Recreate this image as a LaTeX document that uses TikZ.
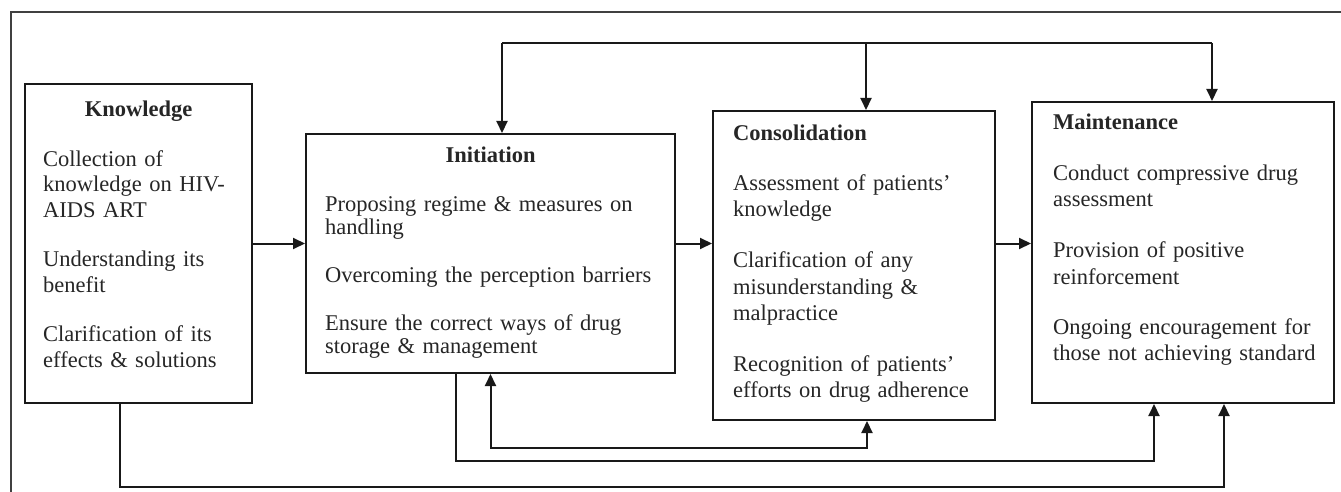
\documentclass[tikz,border=0pt]{standalone}
\usepackage{fontspec}
\setmainfont{Liberation Serif}
\usepackage{tikz}
\usetikzlibrary{calc,arrows,arrows.meta}

\begin{document}
\begin{tikzpicture}[x=1pt,y=-1pt,
    stagebox/.style={draw=black!90, line width=2pt, inner sep=0pt},
    stagetext/.style={anchor=base west, align=left, inner sep=0pt, text=black!85},
    wire/.style={draw=black!90, line width=2pt},
    flow/.style={wire, -{Triangle[length=12pt,width=11pt]}}]
      \useasboundingbox[fill=white] (0,0) rectangle (1341,492);
      % outer frame
      \draw[draw=black!75, line width=1.6pt] (11,510) -- (11,12) -- (1360,12);
      % the four stages
      \node[stagebox, minimum width=227pt, minimum height=319pt] (know) at (138.5,243.5) {};
      \node[stagebox, minimum width=369pt, minimum height=239pt] (init) at (490.5,253.5) {};
      \node[stagebox, minimum width=282pt, minimum height=309pt] (cons) at (854,265.5) {};
      \node[stagebox, minimum width=302pt, minimum height=301pt] (main) at (1183,252.5) {};
      \node[stagetext, text width=191pt, font=\fontsize{22.5}{25.5}\selectfont] (knowtext) at (43,117)
        {\makebox[\linewidth]{\bfseries Knowledge}\\[24pt]
         Collection of\\ knowledge on HIV-\\ AIDS ART\\[24pt]
         Understanding its\\ benefit\\[24pt]
         Clarification of its\\ effects \& solutions};
      \node[stagetext, text width=331pt, font=\fontsize{22.5}{22.5}\selectfont] (inittext) at (325,163)
        {\makebox[\linewidth]{\bfseries Initiation}\\[26pt]
         Proposing regime \& measures on\\ handling\\[26pt]
         Overcoming the perception barriers\\[26pt]
         Ensure the correct ways of drug\\ storage \& management};
      \node[stagetext, text width=250pt, font=\fontsize{22.5}{26.5}\selectfont] (constext) at (733,140)
        {\textbf{Consolidation}\\[24pt]
         Assessment of patients’\\ knowledge\\[24pt]
         Clarification of any\\ misunderstanding \&\\ malpractice\\[24pt]
         Recognition of patients’\\ efforts on drug adherence};
      \node[stagetext, text width=270pt, font=\fontsize{22.5}{26.5}\selectfont] (maintext) at (1053,130)
        {\textbf{Maintenance}\\[24pt]
         Conduct compressive drug\\ assessment\\[24pt]
         Provision of positive\\ reinforcement\\[24pt]
         Ongoing encouragement for\\ those not achieving standard};
      % forward arrows
      \draw[flow] (know.east) -- (know.east -| init.west);
      \draw[flow] (know.east -| init.east) -- (know.east -| cons.west);
      \draw[flow] (know.east -| cons.east) -- (know.east -| main.west);
      % feedback line on top
      \coordinate (bus1) at (502,43);
      \coordinate (bus2) at (866,43);
      \coordinate (bus3) at (1212,43);
      \draw[wire] (bus1) -- (bus3);
      \draw[flow] (bus1) -- (bus1 |- init.north);
      \draw[flow] (bus2) -- (bus2 |- cons.north);
      \draw[flow] (bus3) -- (bus3 |- main.north);
      % lines below
      \draw[flow, {Triangle[length=12pt,width=11pt]}-{Triangle[length=12pt,width=11pt]}]
        (init.south) -- ++(0,74) -| ([xshift=13pt]cons.south);
      \draw[flow] ([xshift=-34.5pt]init.south) -- ++(0,87) -| ([xshift=-29pt]main.south);
      \draw[flow] ([xshift=-18.5pt]know.south) -- ++(0,83) -| ([xshift=41pt]main.south);
\end{tikzpicture}
\end{document}
